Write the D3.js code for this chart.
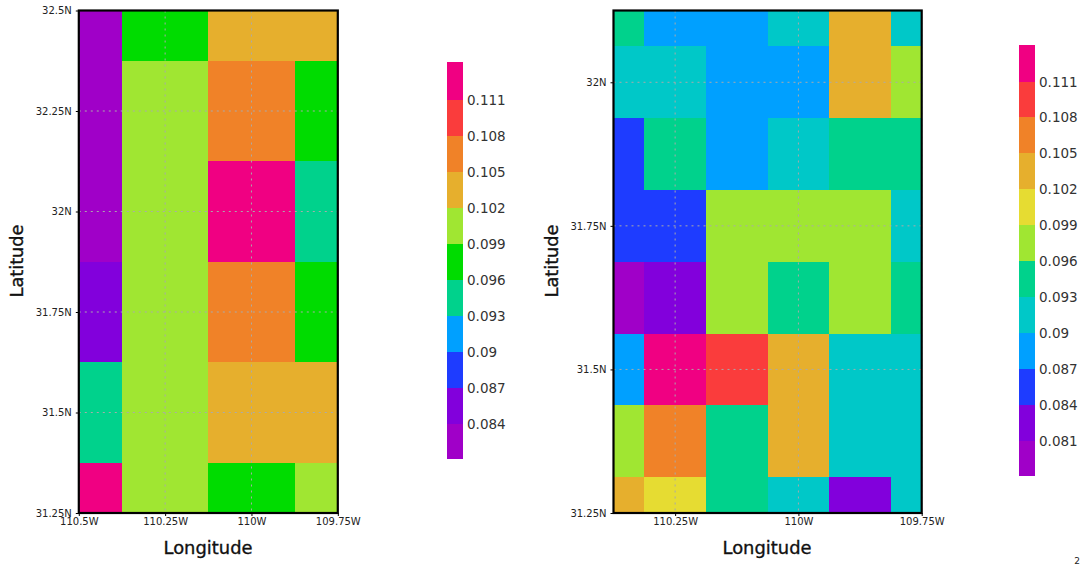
<!DOCTYPE html>
<html><head><meta charset="utf-8">
<script src="https://cdnjs.cloudflare.com/ajax/libs/d3/7.8.5/d3.min.js"></script>
<style>html,body{margin:0;padding:0;background:#fff}svg{display:block}text{font-family:"DejaVu Sans",sans-serif}</style>
</head><body><svg id="c" width="1081" height="565"></svg>
<script>
// Left panel
const leftLons=[-110.5,-110.25,-110,-109.75];
const leftLats=[32.5,32.25,32,31.75,31.5,31.25];
const leftValues=[
[0.083,0.0975,0.1035,0.1035],
[0.083,0.1005,0.1065,0.0975],
[0.083,0.1005,0.112,0.0945],
[0.0855,0.1005,0.1065,0.0975],
[0.0945,0.1005,0.1035,0.1035],
[0.112,0.1005,0.0975,0.1005]];
const leftThresholds=[0.084,0.087,0.09,0.093,0.096,0.099,0.102,0.105,0.108,0.111];
const leftColors=["#a000c8","#8200dc","#1e3cff","#00a0ff","#00d28c","#00dc00","#a0e632","#e6af2d","#f08228","#fa3c3c","#f00082"];
const leftLegendLabels=["0.084","0.087","0.09","0.093","0.096","0.099","0.102","0.105","0.108","0.111"];
const leftXTicks=[-110.5,-110.25,-110,-109.75];
const leftXLabels=["110.5W","110.25W","110W","109.75W"];
const leftYTicks=[32.5,32.25,32,31.75,31.5,31.25];
const leftYLabels=["32.5N","32.25N","32N","31.75N","31.5N","31.25N"];
// Right panel
const rightLons=[-110.375,-110.25,-110.125,-110,-109.875,-109.75];
const rightLats=[32.125,32,31.875,31.75,31.625,31.5,31.375,31.25];
const rightValues=[
[0.0945,0.0885,0.0885,0.0915,0.1035,0.0915],
[0.0915,0.0915,0.0885,0.0885,0.1035,0.0975],
[0.0855,0.0945,0.0885,0.0915,0.0945,0.0945],
[0.0855,0.0855,0.0975,0.0975,0.0975,0.0915],
[0.08,0.0825,0.0975,0.0945,0.0975,0.0945],
[0.0885,0.112,0.1095,0.1035,0.0915,0.0915],
[0.0975,0.1065,0.0945,0.1035,0.0915,0.0915],
[0.1035,0.1005,0.0945,0.0915,0.0825,0.0915]];
const rightThresholds=[0.081,0.084,0.087,0.09,0.093,0.096,0.099,0.102,0.105,0.108,0.111];
const rightColors=["#a000c8","#8200dc","#1e3cff","#00a0ff","#00c8c8","#00d28c","#a0e632","#e6dc32","#e6af2d","#f08228","#fa3c3c","#f00082"];
const rightLegendLabels=["0.081","0.084","0.087","0.09","0.093","0.096","0.099","0.102","0.105","0.108","0.111"];
const rightXTicks=[-110.25,-110,-109.75];
const rightXLabels=["110.25W","110W","109.75W"];
const rightYTicks=[32,31.75,31.5,31.25];
const rightYLabels=["32N","31.75N","31.5N","31.25N"];
const pageNumber="2";
const xTitle="Longitude", yTitle="Latitude";

const svg=d3.select("#c");

function panel(o){
  const g=svg.append("g");
  const x=d3.scaleLinear().domain(o.lonDomain).range(o.xRange).clamp(true);
  const y=d3.scaleLinear().domain(o.latDomain).range(o.yRange).clamp(true);
  const color=d3.scaleThreshold().domain(o.thresholds).range(o.colors);
  const cells=o.values.flatMap((row,i)=>row.map((v,j)=>({lon:o.lons[j],lat:o.lats[i],v})));
  g.append("g").selectAll("rect").data(cells).join("rect")
    .attr("x",d=>x(d.lon-o.dLon/2))
    .attr("y",d=>y(d.lat+o.dLat/2))
    .attr("width",d=>x(d.lon+o.dLon/2)-x(d.lon-o.dLon/2))
    .attr("height",d=>y(d.lat-o.dLat/2)-y(d.lat+o.dLat/2))
    .attr("fill",d=>color(d.v))
    .attr("shape-rendering","crispEdges");
  // grid
  const dot={stroke:"#aaaaaa","stroke-width":1,"stroke-dasharray":"2 4"};
  const gx=g.append("g").selectAll("line").data(o.xTicks).join("line")
    .attr("x1",d=>x(d)).attr("x2",d=>x(d)).attr("y1",o.yRange[1]).attr("y2",o.yRange[0]);
  const gy=g.append("g").selectAll("line").data(o.yTicks).join("line")
    .attr("y1",d=>y(d)).attr("y2",d=>y(d)).attr("x1",o.xRange[0]).attr("x2",o.xRange[1]);
  for(const k in dot){gx.attr(k,dot[k]);gy.attr(k,dot[k]);}
  // axes
  const ax=g.append("g").attr("transform",`translate(0,${o.yRange[0]})`)
    .call(d3.axisBottom(x).tickValues(o.xTicks).tickFormat((d,i)=>o.xLabels[i]).tickSize(3).tickPadding(2));
  const ay=g.append("g").attr("transform",`translate(${o.xRange[0]},0)`)
    .call(d3.axisLeft(y).tickValues(o.yTicks).tickFormat((d,i)=>o.yLabels[i]).tickSize(3).tickPadding(4));
  for(const a of [ax,ay]){
    a.select(".domain").remove();
    a.selectAll("line").attr("stroke","#000");
    a.selectAll("text").attr("font-size",10).attr("fill","#222").style("font-family",'"DejaVu Sans",sans-serif');
  }
  // frame
  g.append("rect").attr("x",o.xRange[0]).attr("y",o.yRange[1])
    .attr("width",o.xRange[1]-o.xRange[0]).attr("height",o.yRange[0]-o.yRange[1])
    .attr("fill","none").attr("stroke","#000").attr("stroke-width",2.2);
  // titles
  g.append("text").attr("x",o.xTitleX).attr("y",554).attr("text-anchor","middle")
    .attr("font-size",18).attr("fill","#111").attr("stroke","#111").attr("stroke-width",0.35)
    .attr("textLength",89).attr("lengthAdjust","spacingAndGlyphs").text(xTitle);
  g.append("text").attr("transform",`translate(${o.yTitleX},261) rotate(-90)`).attr("text-anchor","middle")
    .attr("font-size",18).attr("fill","#111").attr("stroke","#111").attr("stroke-width",0.35)
    .attr("textLength",73).attr("lengthAdjust","spacingAndGlyphs").text(yTitle);
  // legend
  const n=o.colors.length;
  const top=o.legend.top, bot=o.legend.bottom;
  const ly=d3.scaleLinear().domain([0,n-2]).range([o.legend.firstY,o.legend.lastY]);
  const bounds=d3.range(n+1).map(i=>i===0?bot:(i===n?top:ly(i-1)));
  const lg=g.append("g");
  lg.selectAll("rect").data(o.colors).join("rect")
    .attr("x",o.legend.x).attr("width",16)
    .attr("y",(d,i)=>bounds[i+1]).attr("height",(d,i)=>bounds[i]-bounds[i+1])
    .attr("fill",d=>d).attr("shape-rendering","crispEdges");
  lg.selectAll("text").data(o.legendLabels).join("text")
    .attr("x",o.legend.x+20).attr("y",(d,i)=>ly(i)+5)
    .attr("font-size",13.5).attr("fill","#333").text(d=>d);
}

panel({lons:leftLons,lats:leftLats,values:leftValues,thresholds:leftThresholds,colors:leftColors,
  lonDomain:[-110.5,-109.75],latDomain:[31.25,32.5],xRange:[78.8,337.8],yRange:[513,10.5],dLon:0.25,dLat:0.25,
  xTicks:leftXTicks,xLabels:leftXLabels,yTicks:leftYTicks,yLabels:leftYLabels,xTitleX:208,yTitleX:23,
  legendLabels:leftLegendLabels,legend:{x:447,top:62,bottom:459,firstY:424,lastY:100}});
panel({lons:rightLons,lats:rightLats,values:rightValues,thresholds:rightThresholds,colors:rightColors,
  lonDomain:[-110.375,-109.75],latDomain:[31.25,32.125],xRange:[613.5,921.7],yRange:[513,10.5],dLon:0.125,dLat:0.125,
  xTicks:rightXTicks,xLabels:rightXLabels,yTicks:rightYTicks,yLabels:rightYLabels,xTitleX:767,yTitleX:558,
  legendLabels:rightLegendLabels,legend:{x:1019,top:45,bottom:476,firstY:441,lastY:81.5}});
svg.append("text").attr("x",1077).attr("y",564).attr("text-anchor","middle").attr("font-size",9).attr("fill","#222").text(pageNumber);
</script></body></html>
